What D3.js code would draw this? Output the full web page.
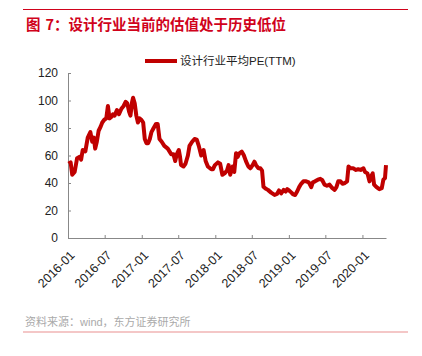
<!DOCTYPE html>
<html><head><meta charset="utf-8">
<script src="https://cdn.jsdelivr.net/npm/d3@7"></script>
<style>
html,body{margin:0;padding:0;background:#fff;}
svg{display:block;}
</style></head>
<body>
<svg id="c" width="422" height="356"></svg>
<script>
const titlePrefix = "图";
const titleText = "7：设计行业当前的估值处于历史低位";
const seriesName = "设计行业平均PE(TTM)";
const source = "资料来源：wind，东方证券研究所";
const yTicks = [0, 20, 40, 60, 80, 100, 120];
const xTickLabels = ["2016-01","2016-07","2017-01","2017-07","2018-01","2018-07","2019-01","2019-07","2020-01"];
const dates = [
"2016-01-04","2016-01-14","2016-01-22","2016-02-03","2016-02-15","2016-02-28","2016-03-06","2016-03-14","2016-03-27","2016-04-08",
"2016-04-21","2016-04-30","2016-05-08","2016-05-15","2016-05-23","2016-06-01","2016-06-11","2016-06-19","2016-06-29","2016-07-09",
"2016-07-17","2016-07-25","2016-08-03","2016-08-11","2016-08-19","2016-08-31","2016-09-10","2016-09-22","2016-10-03","2016-10-13",
"2016-10-21","2016-10-30","2016-11-06","2016-11-14","2016-11-19","2016-11-27","2016-12-05","2016-12-13","2016-12-21","2016-12-30",
"2017-01-08","2017-01-16","2017-01-24","2017-02-02","2017-02-10","2017-02-18","2017-03-01","2017-03-13","2017-03-21","2017-03-30",
"2017-04-10","2017-04-23","2017-05-10","2017-05-27","2017-06-07","2017-06-16","2017-06-24","2017-07-04","2017-07-10","2017-07-15",
"2017-07-27","2017-08-06","2017-08-18","2017-08-26","2017-09-08","2017-09-20","2017-10-01","2017-10-11","2017-10-23","2017-11-04",
"2017-11-14","2017-11-25","2017-12-12","2017-12-20","2017-12-30",
"2018-01-14","2018-01-25","2018-02-05","2018-02-16","2018-02-28","2018-03-08","2018-03-16","2018-03-28","2018-04-05","2018-04-14",
"2018-04-22","2018-04-30","2018-05-12","2018-05-22","2018-06-03","2018-06-14","2018-06-24","2018-07-05","2018-07-14","2018-07-22",
"2018-08-03","2018-08-13","2018-08-21","2018-08-28","2018-09-07","2018-09-19","2018-10-05","2018-10-22","2018-11-03","2018-11-13",
"2018-11-24","2018-12-06","2018-12-16","2018-12-24","2019-01-02","2019-01-14","2019-01-22","2019-02-01","2019-02-11","2019-02-21",
"2019-03-03","2019-03-14","2019-03-28","2019-04-10","2019-04-22","2019-04-30","2019-05-11","2019-05-25","2019-06-06","2019-06-16",
"2019-06-27","2019-07-09","2019-07-22","2019-08-05","2019-08-16","2019-08-25","2019-09-03","2019-09-14","2019-09-24","2019-10-06",
"2019-10-17","2019-10-24","2019-11-03","2019-11-16","2019-11-30","2019-12-11","2019-12-23","2020-01-06","2020-01-14","2020-01-26",
"2020-02-05","2020-02-13","2020-02-21","2020-02-28","2020-03-11","2020-03-25","2020-04-06","2020-04-14","2020-04-22","2020-04-27"
];
const pe = [
54,55,46,48,58,59,57,64,63,73,
77,70,73,65,70,78,81,84,86,87,
96,87,88,90,89,93,90,94,96,99,
98,92,89,99,102,98,89,84,87,86,
84,72,69,69,72,77,80,83,83,72,
70,67,65,61,61,56,61,64,59,53,
52,54,60,67,70,72,71.5,67,60,64,
56,52,50,50,53,
55,54,46,47,49,53,46,52,48,61.6,
59,61.6,62.8,60.4,55.5,52,50.7,53,55.5,53,
50.7,50.7,49,37.3,36,35,33,31.3,32,34.6,
32.5,35,33.8,35.5,34.6,33,31.7,31.3,33.8,37,
39.4,41.2,41.2,40.5,37,40.5,41.2,42.4,43,42,
38.8,38,38.8,36.2,35,37,41.2,41.2,39.4,40,
41.2,52,50.7,50.7,49.5,50,49.5,50.7,48,47,
41.2,44.8,47,38.8,37,35.5,36.2,42.4,43.6,53
];

const parse = d3.timeParse("%Y-%m-%d");
const data = dates.map((d,i)=>({date: parse(d), v: pe[i]}));
const svg = d3.select("#c");
const red = "#c00000";
const latinCjk = "'Liberation Sans', Arial, 'Noto Sans CJK SC', sans-serif";

// top rule
svg.append("line").attr("x1",23).attr("x2",408).attr("y1",9.5).attr("y2",9.5)
  .attr("stroke","#d0021b").attr("stroke-width",1);
// title
const t = svg.append("text").attr("x",26).attr("y",30)
  .attr("fill","#d0021b").attr("font-size","14.5px").attr("font-weight","bold")
  .attr("font-family","'Noto Sans CJK SC', sans-serif");
t.append("tspan").text(titlePrefix);
t.append("tspan").attr("dx",5).text(titleText);

const pLeft = 68, pRight = 386, pTop = 73, pBottom = 238;
const x = d3.scaleTime().domain([parse("2016-01-01"), parse("2020-04-27")]).range([pLeft, pRight]);
const y = d3.scaleLinear().domain([0,120]).range([pBottom, pTop]);

// y axis
const yAxis = d3.axisLeft(y).tickValues(yTicks).tickSize(-3).tickPadding(10);
const gy = svg.append("g").attr("transform",`translate(${pLeft},0)`).call(yAxis);
gy.selectAll("path,line").attr("stroke","#888");
gy.selectAll("text").attr("font-size","12px").attr("fill","#222")
  .attr("font-family","'Liberation Sans', Arial, sans-serif");

// x axis
const tickDates = xTickLabels.map(s=>parse(s+"-01"));
const xAxis = d3.axisBottom(x).tickValues(tickDates).tickFormat(d3.timeFormat("%Y-%m")).tickSize(-3).tickSizeOuter(0);
const gx = svg.append("g").attr("transform",`translate(0,${pBottom})`).call(xAxis);
gx.selectAll("path,line").attr("stroke","#888");
gx.selectAll("text").attr("font-size","12.5px").attr("fill","#222")
  .attr("font-family","'Liberation Sans', Arial, sans-serif")
  .attr("text-anchor","end").attr("dy",null).attr("y",0)
  .attr("transform","translate(7,18) rotate(-45)");

// line
const line = d3.line().x(d=>x(d.date)).y(d=>y(d.v));
svg.append("path").datum(data).attr("d",line).attr("fill","none")
  .attr("stroke",red).attr("stroke-width",4).attr("stroke-linejoin","round");

// legend
svg.append("line").attr("x1",145).attr("x2",177).attr("y1",61).attr("y2",61)
  .attr("stroke",red).attr("stroke-width",4);
svg.append("text").attr("x",180).attr("y",65).text(seriesName)
  .attr("font-size","11.5px").attr("fill","#222")
  .attr("font-family",latinCjk);

// source
svg.append("text").attr("x",25).attr("y",326).text(source)
  .attr("font-size","11px").attr("fill","#aaa")
  .attr("font-family",latinCjk);
svg.append("line").attr("x1",23).attr("x2",408).attr("y1",332).attr("y2",332)
  .attr("stroke","#f4c7c7").attr("stroke-width",2);
</script>
</body></html>
